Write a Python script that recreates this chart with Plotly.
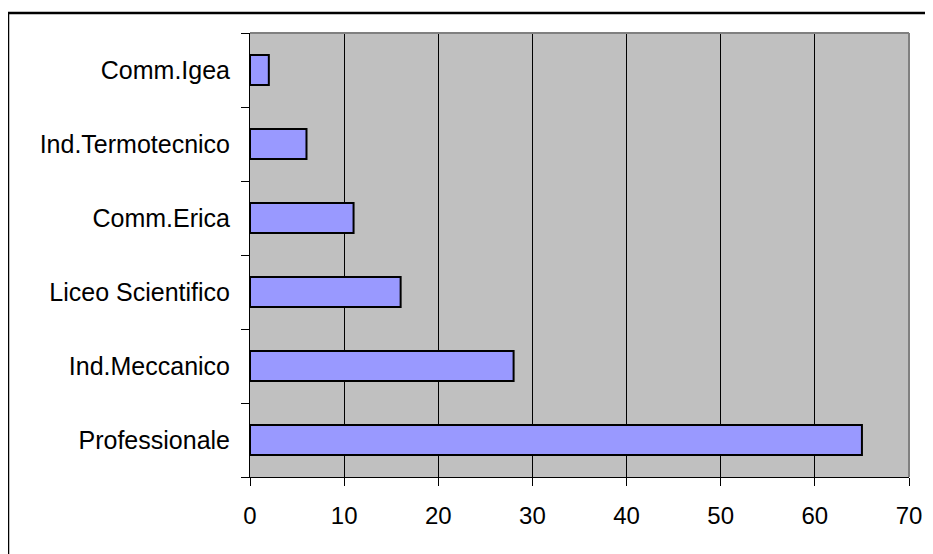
import plotly.graph_objects as go

categories = ["Professionale", "Ind.Meccanico", "Liceo Scientifico", "Comm.Erica", "Ind.Termotecnico", "Comm.Igea"]
values = [65, 28, 16, 11, 6, 2]
x_ticks = [0, 10, 20, 30, 40, 50, 60, 70]

fig = go.Figure(go.Bar(
    y=categories, x=values, orientation="h",
    marker=dict(color="#9999FF", line=dict(color="black", width=2)),
))

# page body has an 8px default margin; figure coords = screen coords - 8
OFF = 8
W, H = 933, 554
L, T = 250 - OFF, 33 - OFF
R = W - (909 - OFF)
B = H - (477 - OFF)
pw, ph = W - L - R, H - T - B

def px_x(p):
    return (p - OFF - L) / pw

def px_y(p):
    return (H - B - (p - OFF)) / ph

fig.update_layout(
    width=W, height=H,
    margin=dict(l=L, r=R, t=T, b=B, pad=0),
    paper_bgcolor="white", plot_bgcolor="#C0C0C0",
    font=dict(family="Liberation Sans, Arial, sans-serif", size=25, color="black"),
    bargap=0.595, showlegend=False,
    xaxis=dict(range=[0, 70], tickvals=x_ticks, showgrid=True, gridcolor="black", gridwidth=1,
               ticks="outside", ticklen=8, tickcolor="black", showline=True, linecolor="black",
               linewidth=1, zeroline=False, ticklabelstandoff=9, tickfont=dict(size=24)),
    yaxis=dict(categoryorder="array", categoryarray=categories, ticks="outside", ticklen=8,
               tickson="boundaries", tickcolor="black", showline=True, linecolor="black",
               linewidth=1, showgrid=False, ticklabelstandoff=14),
    shapes=[
        dict(type="line", xref="paper", yref="paper", x0=0, x1=1, y0=1, y1=1,
             line=dict(color="#808080", width=2)),
        dict(type="line", xref="paper", yref="paper", x0=1, x1=1, y0=0, y1=1,
             line=dict(color="#808080", width=2)),
        dict(type="line", xref="paper", yref="paper", x0=px_x(8), x1=px_x(960), y0=px_y(13), y1=px_y(13),
             line=dict(color="black", width=2.5)),
        dict(type="line", xref="paper", yref="paper", x0=px_x(8), x1=px_x(8), y0=px_y(13), y1=px_y(580),
             line=dict(color="black", width=2.5)),
    ],
)

fig.write_html("out.html")
